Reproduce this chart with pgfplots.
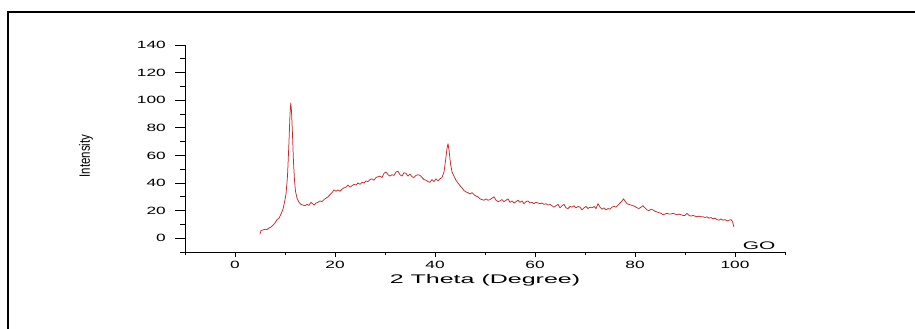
\documentclass[border=0pt]{standalone}
\usepackage{fontspec}
\setmainfont{Liberation Sans}
\usepackage{pgfplots}
\pgfplotsset{compat=1.18}
\definecolor{xrd}{RGB}{200,40,40}
\pgfplotstableread{
x y
5.0 3.0
5.2 5.5
5.6 6.0
6.0 6.5
6.4 6.2
6.8 7.5
7.2 8.0
7.6 9.5
8.0 11.0
8.4 13.5
8.8 14.5
9.2 17.5
9.6 21.0
9.9 26.0
10.2 32.0
10.5 45.0
10.8 70.0
11.0 90.0
11.15 98.0
11.3 92.0
11.5 75.0
11.7 55.0
11.9 42.0
12.1 34.0
12.4 29.0
12.8 26.0
13.2 24.5
13.6 24.0
14.0 23.5
14.4 24.5
14.8 23.8
15.2 26.0
15.5 25.0
15.8 24.0
16.2 25.5
16.6 26.0
17.0 27.0
17.4 26.5
17.8 28.0
18.2 29.0
18.6 30.0
19.0 31.5
19.4 33.0
19.8 35.0
20.2 34.0
20.6 35.0
21.0 34.0
21.4 35.5
21.8 36.5
22.2 37.0
22.6 38.5
23.0 37.0
23.4 38.0
23.8 39.0
24.2 38.5
24.6 40.0
25.0 39.0
25.4 40.5
25.8 40.0
26.2 41.5
26.6 41.0
27.0 42.5
27.4 43.0
27.8 42.0
28.2 44.0
28.6 44.5
29.0 45.0
29.4 44.0
29.8 47.0
30.2 48.0
30.6 46.0
31.0 45.0
31.4 46.0
31.8 45.5
32.2 48.0
32.6 48.5
33.0 46.0
33.4 45.0
33.8 47.5
34.2 47.0
34.6 45.0
35.0 46.5
35.4 44.5
35.8 44.0
36.2 45.5
36.6 46.0
37.0 45.5
37.4 44.0
37.8 42.5
38.2 42.0
38.6 41.0
39.0 40.5
39.4 42.5
39.8 41.0
40.2 43.0
40.6 41.5
41.0 43.0
41.4 44.0
41.8 48.0
42.1 56.0
42.4 65.0
42.6 68.5
42.8 64.0
43.1 54.0
43.4 48.0
43.8 45.0
44.2 42.0
44.6 40.0
45.0 38.0
45.4 36.5
45.8 34.5
46.2 33.5
46.6 33.0
47.0 32.0
47.4 33.0
47.8 31.5
48.2 30.5
48.6 30.0
49.0 28.5
49.4 28.0
49.8 27.5
50.2 28.5
50.6 27.5
51.0 28.0
51.4 29.0
51.8 30.0
52.2 27.5
52.6 26.5
53.0 27.0
53.4 28.0
53.8 26.5
54.2 27.5
54.6 28.5
55.0 26.0
55.4 27.0
55.8 25.5
56.2 26.5
56.6 27.5
57.0 26.0
57.4 27.0
57.8 25.0
58.2 26.5
58.6 27.0
59.0 25.5
59.4 26.0
59.8 25.0
60.2 26.0
60.6 25.5
61.0 25.0
61.4 25.5
61.8 24.5
62.2 25.0
62.6 24.0
63.0 24.5
63.4 23.5
63.8 22.5
64.2 23.5
64.6 24.5
65.0 22.0
65.4 23.5
65.8 24.5
66.2 22.0
66.6 21.5
67.0 23.0
67.4 22.5
67.8 23.5
68.2 22.0
68.6 23.0
69.0 22.5
69.4 20.5
69.8 22.0
70.2 23.0
70.6 21.5
71.0 22.5
71.4 22.0
71.8 23.0
72.2 21.5
72.6 25.0
73.0 22.5
73.4 21.0
73.8 22.0
74.2 20.5
74.6 21.5
75.0 21.0
75.4 22.5
75.8 23.0
76.2 22.5
76.6 24.0
77.0 25.5
77.4 27.0
77.7 28.5
78.0 27.0
78.4 25.0
78.8 24.5
79.2 24.0
79.6 23.5
80.0 23.0
80.4 22.0
80.8 21.5
81.2 22.5
81.6 23.5
82.0 22.0
82.4 20.5
82.8 20.0
83.2 21.0
83.6 20.5
84.0 19.5
84.4 19.0
84.8 18.5
85.2 18.0
85.6 17.0
86.0 17.5
86.4 18.0
86.8 17.5
87.2 17.5
87.6 18.0
88.0 17.5
88.4 17.0
88.8 17.5
89.2 17.0
89.6 16.5
90.0 16.5
90.4 18.0
90.8 16.5
91.2 16.0
91.6 16.5
92.0 16.0
92.4 15.5
92.8 16.0
93.2 15.5
93.6 15.5
94.0 15.0
94.4 15.5
94.8 14.5
95.2 15.0
95.6 14.0
96.0 14.5
96.4 13.5
96.8 13.0
97.2 14.0
97.6 13.0
98.0 13.5
98.4 12.5
98.8 13.0
99.2 13.5
99.5 12.0
99.8 8.0
}\godata
\begin{document}
\begin{tikzpicture}
\useasboundingbox (0pt,0pt) rectangle (915pt,329pt);
\draw[line width=1.1pt] (7pt,317pt) -- (915pt,317pt);
\draw[line width=2pt] (8pt,318pt) -- (8pt,0pt);
\draw[line width=2.4pt] (7pt,317pt) -- (29pt,317pt);
\draw[line width=2.4pt] (905pt,317pt) -- (915pt,317pt);
\begin{axis}[
  at={(185pt,77pt)}, anchor=south west,
  scale only axis, width=600pt, height=207pt,
  xmin=-10, xmax=110, ymin=-10, ymax=140,
  axis x line=bottom, axis y line=left,
  axis line style={-, line width=0.9pt, black},
  tick align=outside,
  xtick={0,20,...,100}, minor xtick={-10,10,...,110},
  ytick={0,20,...,140}, minor ytick={-10,10,...,130},
  major tick length=10pt, minor tick length=5pt,
  xtick style={/pgfplots/major tick length=5pt,/pgfplots/minor tick length=3pt},
  tick style={line width=0.8pt, black},
  /pgf/number format/assume math mode=true,
  tick label style={font=\fontsize{10.5}{12}\selectfont, xscale=1.65},
  xticklabel style={yshift=4pt},
  yticklabel style={xshift=-2pt},
  every axis x label/.style={at={(rel axis cs:0.5,0)}, yshift=-28pt, anchor=center},
  every axis y label/.style={at={(rel axis cs:0,0.463)}, xshift=-99pt, rotate=90, anchor=center},
  xlabel={\fontsize{12.5}{14}\selectfont\scalebox{2.0}[1]{2 Theta (Degree)}},
  ylabel={\fontsize{11.5}{13}\selectfont\scalebox{1}[1.3]{Intensity}},
  clip=false,
]
\addplot[xrd, line width=0.75pt, line join=round] table[x=x,y=y] {\godata};
\node at (axis cs:104.8,-5.8) {\fontsize{11}{13}\selectfont\scalebox{1.9}[1]{GO}};
\end{axis}
\end{tikzpicture}
\end{document}
